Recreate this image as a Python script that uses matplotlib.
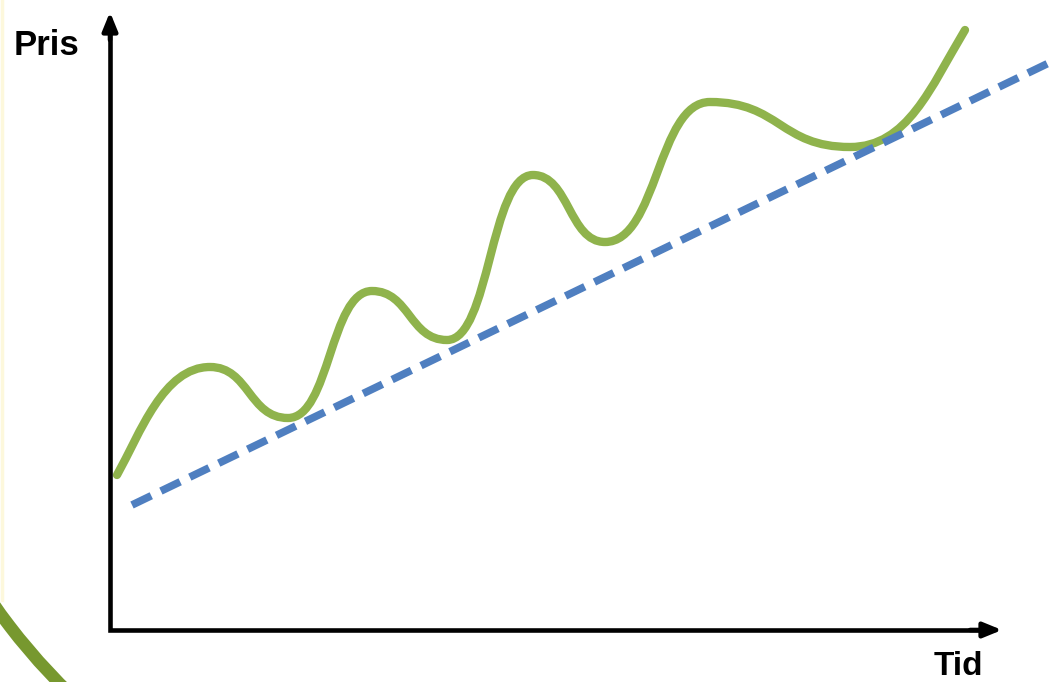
import matplotlib.pyplot as plt
from matplotlib.patches import Arc, PathPatch
from matplotlib.path import Path

# price curve: start, peaks / troughs, end (pixel coords, y down)
pris_x = [117, 210, 288, 372, 447, 533, 605, 710, 850, 965]
pris_y = [475, 367, 418, 291, 340, 175, 242, 102, 147, 30]

# trend line end points
trend_x = [132, 1055]
trend_y = [505, 60]

W, H = 1056, 682
fig = plt.figure(figsize=(W / 100, H / 100), dpi=100)
ax = fig.add_axes([0, 0, 1, 1])
ax.set_xlim(0, W)
ax.set_ylim(H, 0)
ax.axis('off')

# decorative arc bottom left
ax.add_patch(Arc((500, 250), 1236, 1236, theta1=120, theta2=165,
                 color='#77982f', lw=9))
ax.plot([1.5, 1.5], [0, 600], color='#fdf8dc', lw=2.5)

# axes: corner drawn as one line, arrow heads on top
ax.plot([110, 110, 990], [20, 630, 630], color='black', lw=3.3,
        solid_joinstyle='miter', solid_capstyle='butt')
ax.annotate('', xy=(110, 12), xytext=(110, 40),
            arrowprops=dict(arrowstyle='-|>,head_length=1.1,head_width=0.45',
                            color='black', lw=3.3, shrinkA=0, shrinkB=0))
ax.annotate('', xy=(1002, 630), xytext=(970, 630),
            arrowprops=dict(arrowstyle='-|>,head_length=1.1,head_width=0.45',
                            color='black', lw=3.3, shrinkA=0, shrinkB=0))

ax.plot(trend_x, trend_y, color='#4f7fc0', lw=5.5, dashes=(2.8, 1.4),
        solid_capstyle='butt', dash_capstyle='butt')

# smooth bezier through the turning points (flat tangent at each one)
verts = [(pris_x[0], pris_y[0])]
codes = [Path.MOVETO]
n = len(pris_x)
for i in range(n - 1):
    x0, y0, x1, y1 = pris_x[i], pris_y[i], pris_x[i + 1], pris_y[i + 1]
    dx = x1 - x0
    if i == 0:
        c1 = (x0 + 0.25 * dx, y0 - 0.45 * dx)
    else:
        c1 = (x0 + 0.5 * dx, y0)
    if i == n - 2:
        c2 = (x1 - 0.3 * dx, y1 + 0.5 * dx)
    else:
        c2 = (x1 - 0.5 * dx, y1)
    verts += [c1, c2, (x1, y1)]
    codes += [Path.CURVE4] * 3
ax.add_patch(PathPatch(Path(verts, codes), fill=False, edgecolor='#8fb34c',
                       lw=6, capstyle='round', joinstyle='round'))

ax.text(14, 55, 'Pris', fontsize=25, fontweight='bold',
        family='Liberation Sans', ha='left', va='baseline')
ax.text(934, 675, 'Tid', fontsize=24, fontweight='bold',
        family='Liberation Sans', ha='left', va='baseline')

fig.savefig('out.png', dpi=100)
